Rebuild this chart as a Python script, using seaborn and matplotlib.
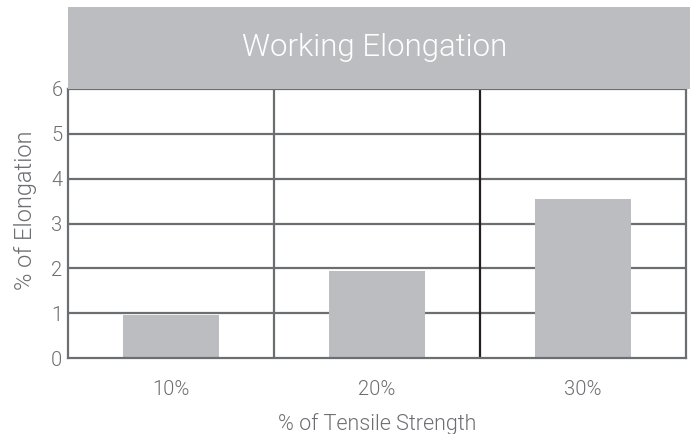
import matplotlib
matplotlib.use("Agg")
import matplotlib.pyplot as plt
import seaborn as sns
import pandas as pd
from matplotlib.patches import Rectangle

categories = ["10%", "20%", "30%"]
values = [0.97, 1.95, 3.55]
yticks = [0, 1, 2, 3, 4, 5, 6]
title = "Working Elongation"
xlabel = "% of Tensile Strength"
ylabel = "% of Elongation"

sns.set_theme(style="white")
plt.rcParams['font.family'] = ['Roboto', 'DejaVu Sans']
plt.rcParams['font.weight'] = 300

text_color = "#6d6e71"
grid_color = "#6d6e71"
bar_color = "#bcbdc0"

df = pd.DataFrame({"strength": categories, "elong": values})

fig = plt.figure(figsize=(6.96, 4.34), dpi=100)
ax = fig.add_axes([68/696, 1-358/434, (686-68)/696, (358-89)/434])

sns.barplot(data=df, x="strength", y="elong", order=categories, color=bar_color,
            width=0.47, saturation=1, ax=ax, zorder=1)
for p in ax.patches:
    p.set_edgecolor("none")

ax.set_xlim(-0.5, 2.5)
ax.set_ylim(0, 6)
ax.set_yticks(yticks)
ax.set_yticklabels([str(v) for v in yticks])
for v in yticks[1:-1]:
    ax.axhline(v, color=grid_color, lw=1.6, zorder=0.5)
ax.axvline(0.5, color=grid_color, lw=1.6, zorder=0.5)
ax.axvline(1.5, color="#231f20", lw=1.6, zorder=0.5)

for s in ax.spines.values():
    s.set_color(grid_color)
    s.set_linewidth(1.6)
    s.set_visible(True)

ax.tick_params(axis='y', length=0, pad=4, labelsize=14.5, labelcolor=text_color)
ax.tick_params(axis='x', length=0, pad=16, labelsize=14.5, labelcolor=text_color)
ax.set_xlabel(xlabel, fontsize=15.5, color=text_color, labelpad=10, fontweight=300)
ax.set_ylabel(ylabel, fontsize=17, color=text_color, fontweight=300)
ax.yaxis.set_label_coords(-0.05, 0.55)

fig.patches.append(Rectangle((68/696, 1-89/434), 622/696, 82/434,
                             transform=fig.transFigure, facecolor=bar_color,
                             edgecolor="none", zorder=0))
fig.text(375/696, 1-48/434, title, ha='center', va='center', fontsize=22.5,
         color='white', fontweight=300)

fig.savefig("out.png", dpi=100)
